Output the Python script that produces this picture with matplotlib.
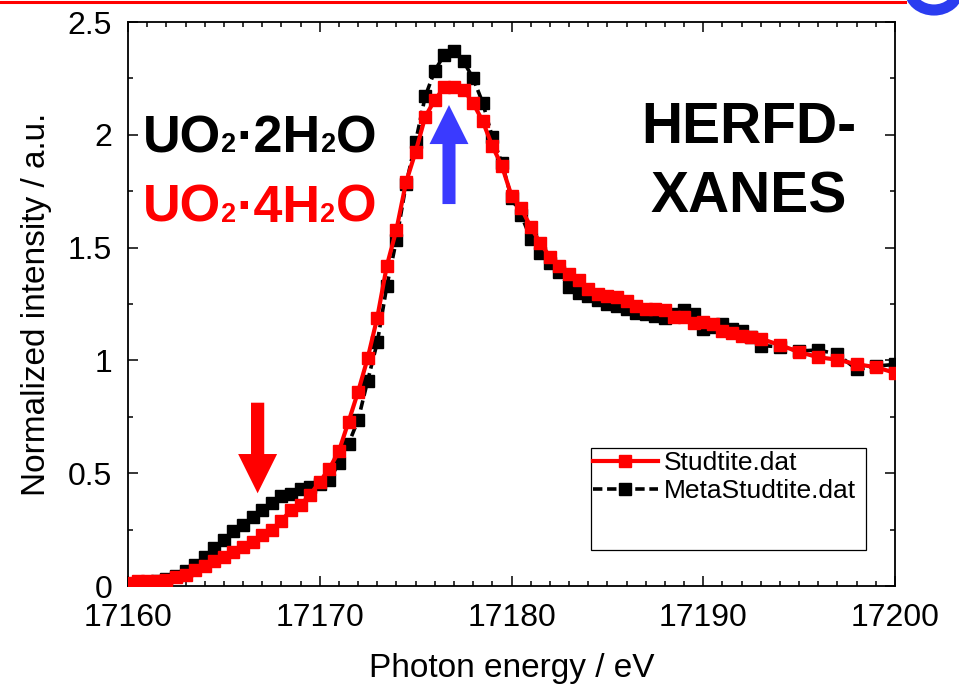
import matplotlib
matplotlib.use("Agg")
import matplotlib.pyplot as plt
import matplotlib.patches as mpatches
import matplotlib.transforms as mtransforms
from matplotlib.lines import Line2D
from matplotlib.ticker import MultipleLocator, FormatStrFormatter

plt.rcParams['font.family'] = ['Liberation Sans', 'DejaVu Sans']

# photon energy grid (eV)
energy = [17160, 17160.5, 17161, 17161.5, 17162, 17162.5, 17163, 17163.5, 17164, 17164.5,
          17165, 17165.5, 17166, 17166.5, 17167, 17167.5, 17168, 17168.5, 17169, 17169.5,
          17170, 17170.5, 17171, 17171.5, 17172, 17172.5, 17173, 17173.5, 17174, 17174.5,
          17175, 17175.5, 17176, 17176.5, 17177, 17177.5, 17178, 17178.5, 17179, 17179.5,
          17180, 17180.5, 17181, 17181.5, 17182, 17182.5, 17183, 17183.5, 17184, 17184.5,
          17185, 17185.5, 17186, 17186.5, 17187, 17187.5, 17188, 17188.5, 17189, 17189.5,
          17190, 17190.5, 17191, 17191.5, 17192, 17192.5, 17193,
          17194, 17195, 17196, 17197, 17198, 17199, 17200]

# Studtite (UO2.4H2O)
studtite = [0.015, 0.020, 0.022, 0.020, 0.028, 0.040, 0.050, 0.071, 0.090, 0.110,
            0.130, 0.152, 0.172, 0.196, 0.225, 0.250, 0.290, 0.336, 0.360, 0.405,
            0.462, 0.520, 0.598, 0.728, 0.861, 1.010, 1.190, 1.420, 1.580, 1.790,
            1.925, 2.080, 2.155, 2.210, 2.210, 2.200, 2.140, 2.060, 1.950, 1.862,
            1.730, 1.675, 1.592, 1.520, 1.460, 1.418, 1.382, 1.356, 1.315, 1.293,
            1.285, 1.280, 1.264, 1.240, 1.230, 1.228, 1.225, 1.192, 1.194, 1.167,
            1.170, 1.160, 1.131, 1.123, 1.106, 1.103, 1.096,
            1.068, 1.037, 1.014, 1.003, 0.983, 0.970, 0.945]

# MetaStudtite (UO2.2H2O)
metastudtite = [0.010, 0.010, 0.014, 0.020, 0.030, 0.045, 0.065, 0.093, 0.127, 0.167,
                0.204, 0.245, 0.272, 0.304, 0.337, 0.370, 0.400, 0.410, 0.430, 0.440,
                0.452, 0.470, 0.544, 0.630, 0.736, 0.910, 1.080, 1.330, 1.534, 1.780,
                1.970, 2.170, 2.285, 2.355, 2.372, 2.325, 2.250, 2.142, 1.990, 1.875,
                1.720, 1.645, 1.540, 1.475, 1.433, 1.390, 1.325, 1.300, 1.286, 1.268,
                1.252, 1.240, 1.228, 1.212, 1.205, 1.197, 1.190, 1.205, 1.222, 1.206,
                1.140, 1.150, 1.160, 1.140, 1.130, 1.105, 1.066,
                1.060, 1.042, 1.046, 1.028, 0.960, 0.975, 0.982]

RED = '#ff0000'
BLUE = '#3a3aff'

fig = plt.figure(figsize=(9.59, 6.86), dpi=100)
ax = fig.add_axes([128/959, 100/686, 767/959, 564/686])

ax.plot(energy, metastudtite, color='black', lw=2.6, ls=(0, (2.6, 1.3)),
        marker='s', ms=8.5, mec='black', mfc='black', label='MetaStudtite.dat', zorder=3)
ax.plot(energy, studtite, color=RED, lw=3, marker='s', ms=8.5,
        mec=RED, mfc=RED, label='Studtite.dat', zorder=4)

ax.set_xlim(17160, 17200)
ax.set_ylim(0, 2.5)
ax.xaxis.set_major_locator(MultipleLocator(10))
ax.xaxis.set_minor_locator(MultipleLocator(1))
ax.yaxis.set_major_locator(MultipleLocator(0.5))
ax.yaxis.set_minor_locator(MultipleLocator(0.25))
ax.yaxis.set_major_formatter(FormatStrFormatter('%g'))
ax.tick_params(which='both', direction='in', top=True, right=True, width=1.1)
ax.tick_params(which='major', length=7.2, labelsize=23)
ax.tick_params(axis='x', which='major', pad=12)
ax.tick_params(axis='y', which='major', pad=11.5)
ax.tick_params(which='minor', length=3.6)
for s in ax.spines.values():
    s.set_linewidth(1.3)

ax.set_xlabel('Photon energy / eV', fontsize=24, labelpad=15)
ax.set_ylabel('Normalized intensity / a.u.', fontsize=24, labelpad=11)

# legend with an Origin-style tall box
h, l = ax.get_legend_handles_labels()
leg = ax.legend(h[::-1], l[::-1], loc='upper left', bbox_to_anchor=(0.6059, 0.2394),
                frameon=False, fontsize=19, borderpad=0, borderaxespad=0,
                handlelength=2.46, handletextpad=0.25, labelspacing=0.17)
ax.add_patch(mpatches.Rectangle((0.6036, 0.0638), 0.3585, 0.1814, transform=ax.transAxes,
                                fill=False, ec='black', lw=0.9, zorder=5))

# HERFD-XANES label
ax.text(0.8097, 0.7855, 'HERFD-', transform=ax.transAxes, ha='center', va='baseline',
        fontsize=41, fontweight='bold')
ax.text(0.8097, 0.663, 'XANES', transform=ax.transAxes, ha='center', va='baseline',
        fontsize=41, fontweight='bold')


def chem(x, y, parts, color, size):
    r = fig.canvas.get_renderer()
    dx = 0.0
    for s, small in parts:
        tr = mtransforms.offset_copy(ax.transAxes, fig=fig, x=dx, y=0, units='dots')
        t = ax.text(x, y, s, transform=tr, fontsize=size * 0.52 if small else size,
                    fontweight='bold', color=color, ha='left', va='baseline')
        dx += t.get_window_extent(renderer=r).width


chem(0.0196, 0.7695, [('UO', False), ('2', True), ('\u00b72H', False), ('2', True), ('O', False)],
     'black', 37.5)
chem(0.0196, 0.6454, [('UO', False), ('2', True), ('\u00b74H', False), ('2', True), ('O', False)],
     RED, 37.5)

# arrows
ax.add_patch(mpatches.FancyArrow(17176.74, 1.693, 0, 0.439 - 0.173, width=0.68,
                                 head_width=2.03, head_length=0.173,
                                 length_includes_head=False, color=BLUE, lw=0, zorder=6))
ax.add_patch(mpatches.FancyArrow(17166.76, 0.8125, 0, -(0.4015 - 0.174), width=0.69,
                                 head_width=2.03, head_length=0.174,
                                 length_includes_head=False, color=RED, lw=0, zorder=6))

# slide decorations at the very top
fig.add_artist(Line2D([0, 905/959], [1 - 1.5/686, 1 - 1.5/686], transform=fig.transFigure,
                      color=RED, lw=2.2))
fig.add_artist(mpatches.Ellipse((934/959, 1 + 10/686), 48/959, 40/686, transform=fig.transFigure,
                                fill=False, ec='#2a3cf0', lw=8))

fig.savefig('out.png', dpi=100)
